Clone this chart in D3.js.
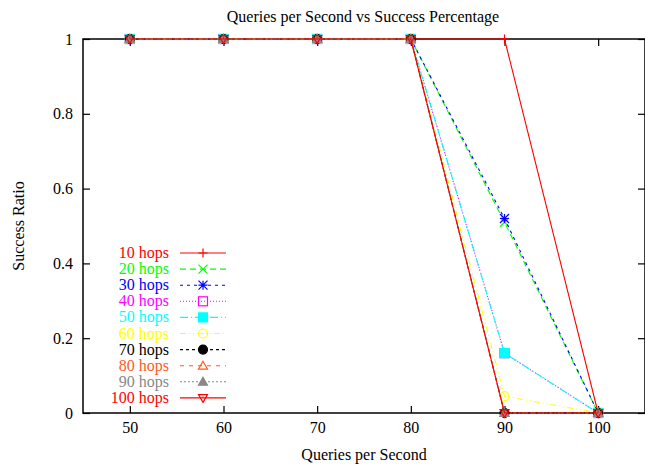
<!DOCTYPE html>
<html><head><meta charset="utf-8">
<script src="https://cdn.jsdelivr.net/npm/d3@7"></script>
<style>body{margin:0;background:#fff}svg{display:block}text{font-family:"Liberation Serif","Times New Roman",serif}</style>
</head><body>
<svg id="c" width="645" height="465"></svg>
<script>
const xValues = [50, 60, 70, 80, 90, 100];
const seriesNames = ["10 hops","20 hops","30 hops","40 hops","50 hops","60 hops","70 hops","80 hops","90 hops","100 hops"];
const s10  = [1,1,1,1,1,0];
const s20  = [1,1,1,1,0.51,0];
const s30  = [1,1,1,1,0.52,0];
const s40  = [1,1,1,1,0.16,0];
const s50  = [1,1,1,1,0.16,0];
const s60  = [1,1,1,1,0.045,0];
const s70  = [1,1,1,1,0,0];
const s80  = [1,1,1,1,0,0];
const s90  = [1,1,1,1,0,0];
const s100 = [1,1,1,1,0,0];
const xTicks = [50,60,70,80,90,100];
const yTicks = [0,0.2,0.4,0.6,0.8,1];
const seriesValues = [s10,s20,s30,s40,s50,s60,s70,s80,s90,s100];
const colors = ["#ff0000","#00ff00","#0000ff","#ff00ff","#00ffff","#ffff00","#000000","#ff5a1a","#888888","#ff0000"];
const dashes = [null,"6,4","3,4","1,2","8,3,1,3","6,3,1,3,1,3","3,3","4,5","2,2",null];
const markers = ["plus","cross","star","boxOpen","boxFilled","circleOpen","circleFilled","triOpen","triFilled","triDownOpen"];

const svg = d3.select("#c");
const L=83, R=645, T=39, B=413;
const x = d3.scaleLinear().domain([45,105]).range([L,R]);
const y = d3.scaleLinear().domain([0,1]).range([B,T]);

svg.append("rect").attr("x",L).attr("y",T).attr("width",R-L).attr("height",B-T)
  .attr("fill","none").attr("stroke","#000").attr("stroke-width",1.5);

const fs = "16px";
const xa = svg.append("g").attr("transform",`translate(0,${B})`)
  .call(d3.axisBottom(x).tickValues(xTicks).tickSize(-7).tickPadding(9).tickFormat(d3.format("d")));
const xt = svg.append("g").attr("transform",`translate(0,${T})`)
  .call(d3.axisTop(x).tickValues(xTicks).tickSize(-7).tickFormat(""));
const ya = svg.append("g").attr("transform",`translate(${L},0)`)
  .call(d3.axisLeft(y).tickValues(yTicks).tickSize(-7).tickPadding(10).tickFormat(d=>d===0||d===1?d3.format("d")(d):d3.format(".1f")(d)));
const yr = svg.append("g").attr("transform",`translate(${R},0)`)
  .call(d3.axisRight(y).tickValues(yTicks).tickSize(-7).tickFormat(""));
[xa,xt,ya,yr].forEach(g=>{
  g.select(".domain").remove();
  g.selectAll("line").attr("stroke","#000").attr("stroke-width",1.2);
  g.selectAll("text").attr("font-size",fs).attr("font-family","Liberation Serif").attr("fill","#000");
});

svg.append("text").attr("x",363).attr("y",22).attr("text-anchor","middle").attr("font-size","16px").text("Queries per Second vs Success Percentage");
svg.append("text").attr("x",364).attr("y",460).attr("text-anchor","middle").attr("font-size","16px").text("Queries per Second");
svg.append("text").attr("transform","translate(24,226) rotate(-90)").attr("text-anchor","middle").attr("font-size","16px").text("Success Ratio");

function drawMarker(g, type, cx, cy, col){
  const s=4.5;
  if(type==="plus"){
    g.append("path").attr("d",`M${cx-s},${cy}H${cx+s}M${cx},${cy-s}V${cy+s}`).attr("stroke",col).attr("stroke-width",1.2);
  } else if(type==="cross"){
    g.append("path").attr("d",`M${cx-s},${cy-s}L${cx+s},${cy+s}M${cx-s},${cy+s}L${cx+s},${cy-s}`).attr("stroke",col).attr("stroke-width",1.2);
  } else if(type==="star"){
    g.append("path").attr("d",`M${cx-s},${cy-s}L${cx+s},${cy+s}M${cx-s},${cy+s}L${cx+s},${cy-s}M${cx-s},${cy}H${cx+s}M${cx},${cy-s}V${cy+s}`).attr("stroke",col).attr("stroke-width",1.2);
  } else if(type==="boxOpen"||type==="boxFilled"){
    g.append("rect").attr("x",cx-s).attr("y",cy-s).attr("width",2*s).attr("height",2*s)
      .attr("fill",type==="boxFilled"?col:"none").attr("stroke",col).attr("stroke-width",1.2);
  } else if(type==="circleOpen"||type==="circleFilled"){
    g.append("circle").attr("cx",cx).attr("cy",cy).attr("r",s)
      .attr("fill",type==="circleFilled"?col:"none").attr("stroke",col).attr("stroke-width",1.2);
    if(type==="circleOpen") g.append("circle").attr("cx",cx).attr("cy",cy).attr("r",0.7).attr("fill",col);
  } else if(type==="triOpen"||type==="triFilled"){
    g.append("path").attr("d",`M${cx},${cy-s}L${cx+s},${cy+s*0.75}L${cx-s},${cy+s*0.75}Z`)
      .attr("fill",type==="triFilled"?col:"none").attr("stroke",col).attr("stroke-width",1.2);
  } else if(type==="triDownOpen"){
    g.append("path").attr("d",`M${cx},${cy+s}L${cx+s},${cy-s*0.75}L${cx-s},${cy-s*0.75}Z`)
      .attr("fill","none").attr("stroke",col).attr("stroke-width",1.2);
    g.append("circle").attr("cx",cx).attr("cy",cy-1).attr("r",0.7).attr("fill",col);
  }
}

const line = d3.line().x((d,i)=>x(xValues[i])).y(d=>y(d));
const plot = svg.append("g");
seriesValues.forEach((vals,k)=>{
  const g = plot.append("g");
  g.append("path").datum(vals).attr("d",line).attr("fill","none")
    .attr("stroke",colors[k]).attr("stroke-width",1.1)
    .attr("stroke-dasharray",dashes[k]);
  vals.forEach((v,i)=>drawMarker(g,markers[k],x(xValues[i]),y(v),colors[k]));
});

const leg = svg.append("g");
seriesNames.forEach((name,k)=>{
  const yy = 253 + k*16.1;
  leg.append("text").attr("x",169).attr("y",yy+5).attr("text-anchor","end")
    .attr("font-size","16px").attr("fill",colors[k]).text(name);
  leg.append("line").attr("x1",180).attr("x2",226).attr("y1",yy).attr("y2",yy)
    .attr("stroke",colors[k]).attr("stroke-width",1.1).attr("stroke-dasharray",dashes[k]);
  drawMarker(leg,markers[k],203,yy,colors[k]);
});
</script>
</body></html>
